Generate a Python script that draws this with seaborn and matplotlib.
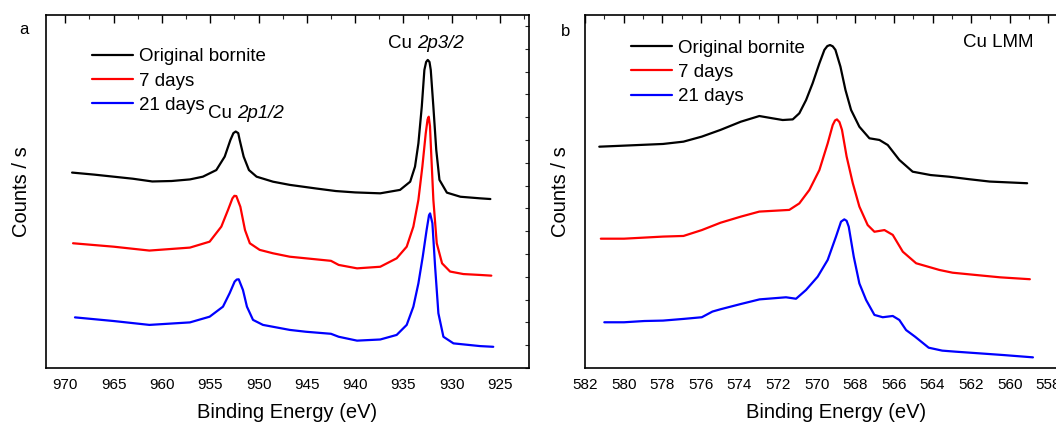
import matplotlib
matplotlib.use("Agg")
import matplotlib.pyplot as plt
import pandas as pd
import seaborn as sns
from matplotlib.ticker import MultipleLocator

# ---- Cu 2p spectra (binding energy eV, counts with vertical offsets, arb. units) ----
cu2p_orig_e = [969.3, 967, 965, 963, 961, 959, 957.1, 955.76, 954.37, 953.5, 952.91, 952.6,
               952.36, 952.1, 951.95, 951.54, 950.99, 950.2, 948.5, 946.76, 944, 942, 940,
               937.4, 935.35, 934.3, 933.8, 933.45, 933.1, 932.83, 932.65, 932.48, 932.3,
               932.17, 931.9, 931.6, 931.27, 930.5, 929.1, 927.05, 926.0]
cu2p_orig_y = [8.57, 8.48, 8.39, 8.30, 8.18, 8.20, 8.27, 8.39, 8.68, 9.27, 10.0, 10.3,
               10.37, 10.3, 10.0, 9.27, 8.68, 8.39, 8.17, 8.03, 7.87, 7.76, 7.70,
               7.66, 7.81, 8.17, 8.83, 9.85, 11.46, 13.07, 13.42, 13.51, 13.42,
               13.07, 11.46, 9.56, 8.25, 7.69, 7.51, 7.44, 7.41]

cu2p_7d_e = [969.2, 965, 961.3, 957.1, 955.06, 953.85, 953.16, 952.7, 952.5, 952.3, 951.88,
             951.4, 950.9, 949.88, 948.5, 946.76, 945.1, 942.5, 941.7, 939.8, 937.4, 935.7,
             934.66, 933.97, 933.45, 933.04, 932.69, 932.5, 932.38, 932.25, 932.14, 931.9,
             931.55, 931.0, 930.17, 928.8, 927.05, 925.9]
cu2p_7d_y = [5.47, 5.32, 5.15, 5.28, 5.54, 6.2, 6.93, 7.44, 7.55, 7.54, 7.07,
             6.05, 5.47, 5.18, 5.03, 4.88, 4.81, 4.70, 4.52, 4.37, 4.44, 4.81,
             5.32, 6.2, 7.37, 8.83, 10.29, 10.9, 11.02, 10.6, 9.56, 7.37,
             5.47, 4.59, 4.23, 4.12, 4.08, 4.05]

cu2p_21d_e = [969.0, 965, 961.3, 957.1, 955.06, 953.68, 952.99, 952.47, 952.25, 952.05,
              951.61, 951.2, 950.57, 949.54, 946.76, 945.1, 942.5, 941.7, 939.8, 937.4,
              935.7, 934.66, 933.97, 933.45, 933.0, 932.6, 932.35, 932.24, 932.0, 931.72,
              931.38, 930.86, 929.82, 927.05, 925.7]
cu2p_21d_y = [2.22, 2.06, 1.89, 2.0, 2.25, 2.69, 3.28, 3.79, 3.88, 3.89,
              3.42, 2.69, 2.11, 1.89, 1.67, 1.59, 1.50, 1.37, 1.20, 1.25,
              1.45, 1.89, 2.69, 3.71, 4.88, 6.05, 6.7, 6.78, 6.35, 4.44,
              2.40, 1.37, 1.08, 0.96, 0.93]

# ---- Cu LMM spectra ----
lmm_orig_e = [581.26, 579.98, 577.96, 576.9, 575.95, 574.98, 573.93, 572.97, 572.28, 571.76,
              571.24, 570.9, 570.55, 570.21, 569.86, 569.6, 569.45, 569.31, 569.17, 569.03,
              568.77, 568.51, 568.22, 567.79, 567.27, 566.75, 566.32, 565.72, 565.03, 564.1,
              563.14, 562.09, 561.04, 559.1]
lmm_orig_y = [9.68, 9.73, 9.81, 9.92, 10.16, 10.48, 10.87, 11.14, 11.03, 10.95,
              10.98, 11.27, 11.90, 12.70, 13.65, 14.29, 14.47, 14.52, 14.46, 14.29,
              13.49, 12.38, 11.43, 10.63, 10.08, 10.0, 9.76, 9.05, 8.49, 8.33,
              8.25, 8.13, 8.02, 7.94]

lmm_7d_e = [581.18, 579.98, 577.96, 576.9, 575.95, 574.98, 573.93, 572.97, 571.42, 570.9,
            570.38, 569.86, 569.43, 569.17, 569.05, 568.95, 568.82, 568.69, 568.45, 568.13,
            567.79, 567.36, 567.01, 566.49, 566.06, 565.54, 564.85, 563.64, 562.96, 561.74,
            560.5, 558.96]
lmm_7d_y = [5.30, 5.30, 5.40, 5.43, 5.71, 6.06, 6.35, 6.59, 6.67, 6.98,
            7.62, 8.57, 9.84, 10.71, 10.93, 10.98, 10.85, 10.48, 9.21, 7.94,
            6.83, 5.95, 5.63, 5.71, 5.48, 4.68, 4.13, 3.81, 3.68, 3.57,
            3.46, 3.37]

lmm_21d_e = [581.0, 579.98, 578.93, 577.96, 576.9, 575.95, 575.4, 574.98, 573.93, 572.96,
             571.59, 571.07, 570.55, 569.95, 569.43, 569.0, 568.74, 568.57, 568.45, 568.34,
             568.08, 567.79, 567.44, 567.01, 566.58, 566.06, 565.72, 565.37, 564.9, 564.2,
             563.5, 562.8, 561.56, 560.33, 558.8]
lmm_21d_y = [1.32, 1.32, 1.38, 1.40, 1.48, 1.56, 1.83, 1.94, 2.19, 2.41,
             2.51, 2.44, 2.86, 3.49, 4.29, 5.40, 6.11, 6.22, 6.15, 5.87,
             4.44, 3.17, 2.38, 1.67, 1.56, 1.62, 1.43, 0.95, 0.63, 0.11,
             -0.03, -0.08, -0.16, -0.24, -0.35]

series_names = ["Original bornite", "7 days", "21 days"]
series_colors = ["black", "red", "blue"]

FONT = ["Liberation Sans", "DejaVu Sans"]


def to_frame(pairs):
    rows = []
    for name, (e, y) in zip(series_names, pairs):
        for ei, yi in zip(e, y):
            rows.append({"energy": ei, "counts": yi, "sample": name})
    return pd.DataFrame(rows)


def style_axes(ax, major, minor):
    ax.xaxis.set_major_locator(MultipleLocator(major))
    ax.xaxis.set_minor_locator(MultipleLocator(minor))
    ax.yaxis.set_major_locator(MultipleLocator(1))
    ax.tick_params(axis="x", which="major", direction="in", length=6, width=1,
                   top=True, labelsize=11, pad=7, colors="black")
    ax.tick_params(axis="x", which="minor", direction="in", length=3, width=0.8, top=True)
    ax.tick_params(axis="y", which="major", direction="in", length=3, width=0.8,
                   right=True, labelleft=False)
    for s in ax.spines.values():
        s.set_linewidth(1.2)
        s.set_color("black")
    ax.set_xlabel("Binding Energy (eV)", fontsize=14.5, labelpad=8, color="black")
    ax.set_ylabel("Counts / s", fontsize=14.5, labelpad=11, color="black")


def peak_label(ax, x, y, orbital):
    # "Cu" upright, orbital part in italics, centred together on (x, y)
    ax.annotate("Cu", (x, y), xytext=(-10.3, 0), textcoords="offset points",
                ha="right", va="center", fontsize=13.5)
    ax.annotate(orbital, (x, y), xytext=(-6.5, 0), textcoords="offset points",
                ha="left", va="center", fontsize=13.5, fontstyle="italic")


sns.set_style("white")
plt.rcParams["font.family"] = FONT
plt.rcParams["text.color"] = "black"

fig = plt.figure(figsize=(10.56, 4.23), dpi=100)
ax1 = fig.add_axes([46 / 1056, 55 / 423, 483 / 1056, 353 / 423])
ax2 = fig.add_axes([585 / 1056, 55 / 423, 502 / 1056, 353 / 423])

palette = dict(zip(series_names, series_colors))

df1 = to_frame([(cu2p_orig_e, cu2p_orig_y), (cu2p_7d_e, cu2p_7d_y), (cu2p_21d_e, cu2p_21d_y)])
sns.lineplot(data=df1, x="energy", y="counts", hue="sample", palette=palette,
             sort=False, estimator=None, units="sample", lw=1.6, ax=ax1)
ax1.set_xlim(972, 922)
ax1.set_ylim(0, 15.48)
style_axes(ax1, 5, 2.5)
ax1.legend(loc="upper left", bbox_to_anchor=(0.08, 0.927), frameon=False, fontsize=13.5,
           handlelength=2.2, handletextpad=0.3, labelspacing=0.38, borderaxespad=0)
peak_label(ax1, 932.6, 14.25, "2p3/2")
peak_label(ax1, 951.3, 11.18, "2p1/2")
fig.text(24 / 1056, 1 - 30 / 423, "a", ha="center", va="center", fontsize=12)

df2 = to_frame([(lmm_orig_e, lmm_orig_y), (lmm_7d_e, lmm_7d_y), (lmm_21d_e, lmm_21d_y)])
sns.lineplot(data=df2, x="energy", y="counts", hue="sample", palette=palette,
             sort=False, estimator=None, units="sample", lw=1.6, ax=ax2)
ax2.set_xlim(582, 556)
ax2.set_ylim(-0.857, 15.95)
style_axes(ax2, 2, 1)
ax2.legend(loc="upper left", bbox_to_anchor=(0.076, 0.952), frameon=False, fontsize=13.5,
           handlelength=2.2, handletextpad=0.3, labelspacing=0.38, borderaxespad=0)
ax2.text(560.6, 14.62, "Cu LMM", ha="center", va="center", fontsize=13.5)
fig.text(566 / 1056, 1 - 32 / 423, "b", ha="center", va="center", fontsize=12)

fig.savefig("out.png", dpi=100)
